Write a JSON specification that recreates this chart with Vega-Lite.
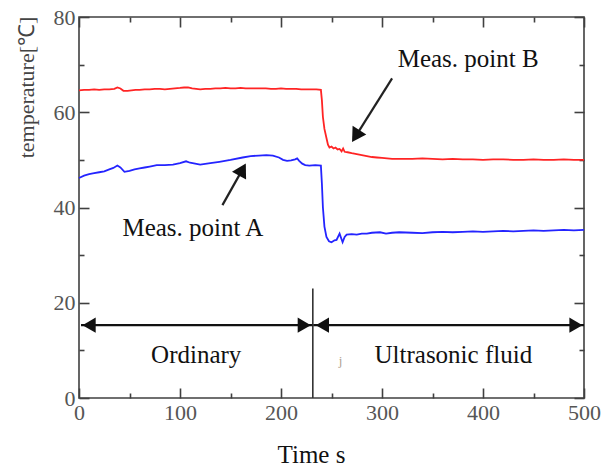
{
  "$schema": "https://vega.github.io/schema/vega-lite/v6.json",
  "width": 505,
  "height": 381,
  "autosize": {"type": "none"},
  "padding": {"left": 79, "top": 17, "right": 24, "bottom": 68},
  "background": "white",
  "config": {
    "view": {"stroke": "#404040", "strokeWidth": 1.6},
    "axis": {
      "grid": false,
      "domain": false,
      "labelFont": "Liberation Serif",
      "labelFontSize": 22,
      "labelColor": "#555555",
      "tickColor": "#404040",
      "tickWidth": 1.6,
      "titleFont": "Liberation Serif",
      "titleFontWeight": "normal",
      "titleColor": "#111111",
      "labelFlush": false,
      "labelOverlap": false
    }
  },
  "datasets": {
    "temps": [
      {"t":0,"temp":64.6,"point":"B"},{"t":5,"temp":64.7,"point":"B"},{"t":10,"temp":64.7,"point":"B"},{"t":15,"temp":64.8,"point":"B"},{"t":20,"temp":64.7,"point":"B"},{"t":25,"temp":64.8,"point":"B"},{"t":30,"temp":64.8,"point":"B"},{"t":35,"temp":64.9,"point":"B"},{"t":38,"temp":65.2,"point":"B"},{"t":41,"temp":65.0,"point":"B"},{"t":44,"temp":64.5,"point":"B"},{"t":48,"temp":64.5,"point":"B"},{"t":52,"temp":64.6,"point":"B"},{"t":56,"temp":64.7,"point":"B"},{"t":60,"temp":64.7,"point":"B"},{"t":65,"temp":64.8,"point":"B"},{"t":70,"temp":64.8,"point":"B"},{"t":75,"temp":64.9,"point":"B"},{"t":80,"temp":64.9,"point":"B"},{"t":85,"temp":64.8,"point":"B"},{"t":90,"temp":64.9,"point":"B"},{"t":95,"temp":65.0,"point":"B"},{"t":100,"temp":65.1,"point":"B"},{"t":104,"temp":65.2,"point":"B"},{"t":108,"temp":65.2,"point":"B"},{"t":112,"temp":65.0,"point":"B"},{"t":116,"temp":64.9,"point":"B"},{"t":120,"temp":64.8,"point":"B"},{"t":125,"temp":64.9,"point":"B"},{"t":130,"temp":64.9,"point":"B"},{"t":135,"temp":65.0,"point":"B"},{"t":140,"temp":65.0,"point":"B"},{"t":145,"temp":65.1,"point":"B"},{"t":150,"temp":65.0,"point":"B"},{"t":155,"temp":65.0,"point":"B"},{"t":160,"temp":65.1,"point":"B"},{"t":165,"temp":65.0,"point":"B"},{"t":170,"temp":65.0,"point":"B"},{"t":175,"temp":65.0,"point":"B"},{"t":180,"temp":65.0,"point":"B"},{"t":185,"temp":65.0,"point":"B"},{"t":190,"temp":64.9,"point":"B"},{"t":195,"temp":64.9,"point":"B"},{"t":200,"temp":65.0,"point":"B"},{"t":205,"temp":64.9,"point":"B"},{"t":210,"temp":64.9,"point":"B"},{"t":215,"temp":64.9,"point":"B"},{"t":220,"temp":64.8,"point":"B"},{"t":225,"temp":64.8,"point":"B"},{"t":230,"temp":64.8,"point":"B"},{"t":235,"temp":64.8,"point":"B"},{"t":239.5,"temp":64.7,"point":"B"},{"t":240.5,"temp":62.5,"point":"B"},{"t":241.5,"temp":59.0,"point":"B"},{"t":243,"temp":56.5,"point":"B"},{"t":245,"temp":54.6,"point":"B"},{"t":246.5,"temp":53.2,"point":"B"},{"t":248,"temp":52.6,"point":"B"},{"t":250,"temp":52.8,"point":"B"},{"t":252,"temp":52.4,"point":"B"},{"t":254,"temp":52.6,"point":"B"},{"t":256,"temp":52.2,"point":"B"},{"t":258,"temp":52.3,"point":"B"},{"t":260,"temp":51.8,"point":"B"},{"t":261.5,"temp":52.4,"point":"B"},{"t":263,"temp":51.7,"point":"B"},{"t":266,"temp":51.6,"point":"B"},{"t":270,"temp":51.4,"point":"B"},{"t":275,"temp":51.2,"point":"B"},{"t":280,"temp":51.0,"point":"B"},{"t":285,"temp":50.8,"point":"B"},{"t":290,"temp":50.6,"point":"B"},{"t":295,"temp":50.5,"point":"B"},{"t":300,"temp":50.4,"point":"B"},{"t":310,"temp":50.2,"point":"B"},{"t":320,"temp":50.2,"point":"B"},{"t":330,"temp":50.2,"point":"B"},{"t":340,"temp":50.3,"point":"B"},{"t":350,"temp":50.2,"point":"B"},{"t":360,"temp":50.1,"point":"B"},{"t":370,"temp":50.2,"point":"B"},{"t":380,"temp":50.1,"point":"B"},{"t":390,"temp":50.1,"point":"B"},{"t":400,"temp":50.0,"point":"B"},{"t":410,"temp":50.1,"point":"B"},{"t":420,"temp":50.1,"point":"B"},{"t":430,"temp":50.0,"point":"B"},{"t":440,"temp":50.0,"point":"B"},{"t":450,"temp":50.1,"point":"B"},{"t":460,"temp":50.0,"point":"B"},{"t":470,"temp":50.0,"point":"B"},{"t":480,"temp":50.1,"point":"B"},{"t":490,"temp":50.0,"point":"B"},{"t":500,"temp":50.0,"point":"B"},
      {"t":0,"temp":46.2,"point":"A"},{"t":5,"temp":46.7,"point":"A"},{"t":10,"temp":47.0,"point":"A"},{"t":15,"temp":47.2,"point":"A"},{"t":20,"temp":47.4,"point":"A"},{"t":25,"temp":47.6,"point":"A"},{"t":30,"temp":48.0,"point":"A"},{"t":34,"temp":48.3,"point":"A"},{"t":38,"temp":48.8,"point":"A"},{"t":41,"temp":48.4,"point":"A"},{"t":45,"temp":47.5,"point":"A"},{"t":50,"temp":47.7,"point":"A"},{"t":55,"temp":48.0,"point":"A"},{"t":60,"temp":48.2,"point":"A"},{"t":65,"temp":48.4,"point":"A"},{"t":70,"temp":48.6,"point":"A"},{"t":77,"temp":48.9,"point":"A"},{"t":85,"temp":48.9,"point":"A"},{"t":93,"temp":49.0,"point":"A"},{"t":100,"temp":49.3,"point":"A"},{"t":106,"temp":49.7,"point":"A"},{"t":110,"temp":49.4,"point":"A"},{"t":115,"temp":49.2,"point":"A"},{"t":120,"temp":49.0,"point":"A"},{"t":130,"temp":49.3,"point":"A"},{"t":139,"temp":49.6,"point":"A"},{"t":150,"temp":50.0,"point":"A"},{"t":162,"temp":50.5,"point":"A"},{"t":170,"temp":50.8,"point":"A"},{"t":178,"temp":50.9,"point":"A"},{"t":185.5,"temp":51.0,"point":"A"},{"t":192,"temp":50.9,"point":"A"},{"t":198,"temp":50.5,"point":"A"},{"t":202,"temp":50.0,"point":"A"},{"t":206,"temp":49.8,"point":"A"},{"t":210,"temp":49.9,"point":"A"},{"t":214,"temp":50.1,"point":"A"},{"t":216,"temp":50.3,"point":"A"},{"t":218,"temp":49.8,"point":"A"},{"t":221,"temp":49.2,"point":"A"},{"t":224,"temp":48.9,"point":"A"},{"t":228,"temp":48.8,"point":"A"},{"t":234,"temp":48.9,"point":"A"},{"t":239.5,"temp":48.8,"point":"A"},{"t":240.5,"temp":45.0,"point":"A"},{"t":241.5,"temp":40.0,"point":"A"},{"t":243,"temp":36.0,"point":"A"},{"t":245,"temp":33.8,"point":"A"},{"t":247.5,"temp":32.9,"point":"A"},{"t":250,"temp":32.7,"point":"A"},{"t":253,"temp":33.1,"point":"A"},{"t":255,"temp":33.2,"point":"A"},{"t":258,"temp":34.5,"point":"A"},{"t":261,"temp":32.7,"point":"A"},{"t":263,"temp":33.8,"point":"A"},{"t":265,"temp":34.3,"point":"A"},{"t":270,"temp":34.4,"point":"A"},{"t":275,"temp":34.3,"point":"A"},{"t":280,"temp":34.5,"point":"A"},{"t":285,"temp":34.5,"point":"A"},{"t":290,"temp":34.7,"point":"A"},{"t":298,"temp":34.8,"point":"A"},{"t":304,"temp":34.5,"point":"A"},{"t":310,"temp":34.7,"point":"A"},{"t":317,"temp":34.8,"point":"A"},{"t":330,"temp":34.7,"point":"A"},{"t":340,"temp":34.6,"point":"A"},{"t":350,"temp":34.8,"point":"A"},{"t":360,"temp":34.9,"point":"A"},{"t":370,"temp":34.8,"point":"A"},{"t":380,"temp":34.9,"point":"A"},{"t":390,"temp":35.0,"point":"A"},{"t":400,"temp":34.9,"point":"A"},{"t":410,"temp":35.0,"point":"A"},{"t":420,"temp":35.1,"point":"A"},{"t":430,"temp":35.0,"point":"A"},{"t":440,"temp":35.1,"point":"A"},{"t":450,"temp":35.2,"point":"A"},{"t":460,"temp":35.1,"point":"A"},{"t":470,"temp":35.2,"point":"A"},{"t":480,"temp":35.3,"point":"A"},{"t":490,"temp":35.2,"point":"A"},{"t":500,"temp":35.3,"point":"A"}
    ],
    "divider": [{"t": 231.5, "from": 0, "to": 23}],
    "spans": [
      {"t0": 2, "t1": 231, "v": 15.3},
      {"t0": 232, "t1": 500, "v": 15.3}
    ],
    "heads": [
      {"t": 10, "v": 15.3, "dir": "left"},
      {"t": 223, "v": 15.3, "dir": "right"},
      {"t": 241, "v": 15.3, "dir": "left"},
      {"t": 492, "v": 15.3, "dir": "right"}
    ],
    "pointers": [
      {"id": "B", "t": 310, "v": 67.1},
      {"id": "B", "t": 274, "v": 55.0},
      {"id": "A", "t": 142, "v": 40.5},
      {"id": "A", "t": 161.8, "v": 47.96}
    ],
    "notes": [
      {"label": "Meas. point B", "t": 315.5, "v": 69.4},
      {"label": "Meas. point A", "t": 43, "v": 34.1},
      {"label": "Ordinary", "t": 71.4, "v": 7.33},
      {"label": "Ultrasonic fluid", "t": 292.6, "v": 7.33}
    ],
    "stray": [{"label": "j", "t": 259, "v": 7.0}]
  },
  "layer": [
    {
      "data": {"name": "temps"},
      "mark": {"type": "line", "strokeWidth": 1.8},
      "encoding": {
        "x": {
          "field": "t", "type": "quantitative",
          "scale": {"domain": [0, 500], "nice": false, "zero": false},
          "axis": {
            "orient": "bottom", "values": [0, 100, 200, 300, 400, 500],
            "tickSize": -10, "labelPadding": 14,
            "labelFont": "Liberation Serif", "labelFontSize": 22, "labelColor": "#555555",
            "title": "Time s", "titleFont": "Liberation Serif", "titleFontSize": 25,
            "titleX": 232, "titleY": 64, "titleAlign": "center", "titleBaseline": "alphabetic"
          }
        },
        "y": {
          "field": "temp", "type": "quantitative",
          "scale": {"domain": [0, 80], "nice": false, "zero": false},
          "axis": {
            "orient": "left", "values": [0, 20, 40, 60, 80],
            "tickSize": -10, "labelPadding": 14,
            "labelFont": "Liberation Serif", "labelFontSize": 22, "labelColor": "#555555",
            "title": "temperature[℃]", "titleFont": "Liberation Serif", "titleFontSize": 22, "titleColor": "#444444",
            "titleAngle": -90, "titleX": -53, "titleY": 70,
            "titleAlign": "center", "titleBaseline": "middle"
          }
        },
        "color": {
          "field": "point", "type": "nominal",
          "scale": {"domain": ["A", "B"], "range": ["#2424ff", "#ff2424"]},
          "legend": null
        }
      }
    },
    {
      "data": {"name": "divider"},
      "mark": {"type": "rule", "color": "#333333", "strokeWidth": 1.6},
      "encoding": {
        "x": {
          "field": "t", "type": "quantitative",
          "scale": {"domain": [0, 500], "nice": false, "zero": false},
          "axis": {"orient": "top", "values": [0, 100, 200, 300, 400, 500], "tickSize": -10, "labels": false, "title": null}
        },
        "y": {
          "field": "from", "type": "quantitative",
          "scale": {"domain": [0, 80], "nice": false, "zero": false},
          "axis": {"orient": "right", "values": [0, 20, 40, 60, 80], "tickSize": -10, "labels": false, "title": null}
        },
        "y2": {"field": "to"}
      }
    },
    {
      "data": {"name": "spans"},
      "mark": {"type": "rule", "color": "#111111", "strokeWidth": 2.4},
      "encoding": {
        "x": {
          "field": "t0", "type": "quantitative",
          "scale": {"domain": [0, 500], "nice": false, "zero": false},
          "axis": {"orient": "bottom", "values": [50, 150, 250, 350, 450], "tickSize": -5, "labels": false, "title": null}
        },
        "x2": {"field": "t1"},
        "y": {
          "field": "v", "type": "quantitative",
          "scale": {"domain": [0, 80], "nice": false, "zero": false},
          "axis": {"orient": "left", "values": [10, 30, 50, 70], "tickSize": -5, "labels": false, "title": null}
        }
      }
    },
    {
      "data": {"name": "heads"},
      "mark": {"type": "point", "filled": true, "opacity": 1, "color": "#111111", "size": 230},
      "encoding": {
        "x": {
          "field": "t", "type": "quantitative",
          "scale": {"domain": [0, 500], "nice": false, "zero": false},
          "axis": {"orient": "top", "values": [50, 150, 250, 350, 450], "tickSize": -5, "labels": false, "title": null}
        },
        "y": {
          "field": "v", "type": "quantitative",
          "scale": {"domain": [0, 80], "nice": false, "zero": false},
          "axis": {"orient": "right", "values": [10, 30, 50, 70], "tickSize": -5, "labels": false, "title": null}
        },
        "shape": {
          "field": "dir", "type": "nominal",
          "scale": {"domain": ["left", "right"], "range": ["triangle-left", "triangle-right"]},
          "legend": null
        }
      }
    },
    {
      "data": {"name": "pointers"},
      "mark": {"type": "line", "color": "#222222", "strokeWidth": 2.2},
      "encoding": {
        "x": {"field": "t", "type": "quantitative", "axis": null},
        "y": {"field": "v", "type": "quantitative", "axis": null},
        "detail": {"field": "id"}
      }
    },
    {
      "data": {"name": "pointers"},
      "transform": [{"filter": "datum.id === 'B' && datum.t < 300"}],
      "mark": {"type": "point", "shape": "triangle-up", "filled": true, "opacity": 1, "color": "#111111", "size": 260, "angle": 212},
      "encoding": {
        "x": {"field": "t", "type": "quantitative", "axis": null},
        "y": {"field": "v", "type": "quantitative", "axis": null}
      }
    },
    {
      "data": {"name": "pointers"},
      "transform": [{"filter": "datum.id === 'A' && datum.t > 150"}],
      "mark": {"type": "point", "shape": "triangle-up", "filled": true, "opacity": 1, "color": "#111111", "size": 260, "angle": 29},
      "encoding": {
        "x": {"field": "t", "type": "quantitative", "axis": null},
        "y": {"field": "v", "type": "quantitative", "axis": null}
      }
    },
    {
      "data": {"name": "notes"},
      "mark": {"type": "text", "font": "Liberation Serif", "fontSize": 25, "align": "left", "baseline": "alphabetic", "color": "#111111"},
      "encoding": {
        "x": {"field": "t", "type": "quantitative", "axis": null},
        "y": {"field": "v", "type": "quantitative", "axis": null},
        "text": {"field": "label"}
      }
    },
    {
      "data": {"name": "stray"},
      "mark": {"type": "text", "font": "Liberation Serif", "fontSize": 13, "align": "center", "baseline": "alphabetic", "color": "#b0a090"},
      "encoding": {
        "x": {"field": "t", "type": "quantitative", "axis": null},
        "y": {"field": "v", "type": "quantitative", "axis": null},
        "text": {"field": "label"}
      }
    }
  ],
  "resolve": {"axis": {"x": "independent", "y": "independent"}}
}
